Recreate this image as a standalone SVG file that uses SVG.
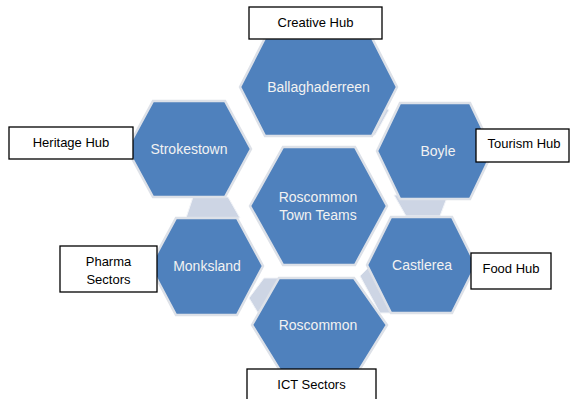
<svg xmlns="http://www.w3.org/2000/svg" width="572" height="399" viewBox="0 0 572 399">
<style>
.hex{fill:#4F81BD;stroke:#DDE1E8;stroke-width:2.5;stroke-linejoin:miter}
.con{fill:#CDD5E4;stroke:#F2F4F8;stroke-width:1}
.ht{font-family:"Liberation Sans",Arial,sans-serif;font-size:14px;fill:#F2F2F2;text-anchor:middle}
.box{fill:#FFFFFF;stroke:#000000;stroke-width:1.3}
.bt{font-family:"Liberation Sans",Arial,sans-serif;font-size:13px;fill:#000000;text-anchor:middle}
</style>
<rect width="572" height="399" fill="#FFFFFF"/>
<g id="connectors">
<polygon class="con" points="384,107 389,110 375,135 369,135"/>
<polygon class="con" points="193,197 228,197 240,218 186,218"/>
<polygon class="con" points="394,195 448,195 440,216 406,216"/>
<polygon class="con" points="264,278 280,278 258,313 249,298"/>
<polygon class="con" points="360,276 368,268 394,313 380,313"/>
</g>
<g id="node-ballaghaderreen">
<polygon class="hex" points="240,87 265,38 372,38 397,87 372,136 265,136"/>
<text class="ht" x="318.5" y="92">Ballaghaderreen</text>
</g>
<g id="node-strokestown">
<polygon class="hex" points="127,149 153,101 225,101 251,149 225,197 153,197"/>
<text class="ht" x="189" y="154">Strokestown</text>
</g>
<g id="node-boyle">
<polygon class="hex" points="377,151 400,103 470,103 493,151 470,199 400,199"/>
<text class="ht" x="438" y="156">Boyle</text>
</g>
<g id="node-town-teams">
<polygon class="hex" points="250,206 283,147 355,147 387,206 355,265 283,265"/>
<text class="ht" x="318" y="202">Roscommon</text>
<text class="ht" x="318" y="220">Town Teams</text>
</g>
<g id="node-monksland">
<polygon class="hex" points="150,266 176,218 237,218 263,266 237,315 176,315"/>
<text class="ht" x="207" y="271">Monksland</text>
</g>
<g id="node-castlerea">
<polygon class="hex" points="367,265 391,217 452,217 476,265 452,313 391,313"/>
<text class="ht" x="422" y="270">Castlerea</text>
</g>
<g id="node-roscommon">
<polygon class="hex" points="252,325 279,278 354,278 387,325 358,372 281,372"/>
<text class="ht" x="318" y="330">Roscommon</text>
</g>
<g id="label-creative">
<rect class="box" x="249" y="7" width="133" height="32"/>
<text class="bt" x="315.5" y="27">Creative Hub</text>
</g>
<g id="label-heritage">
<rect class="box" x="9" y="127" width="124" height="32"/>
<text class="bt" x="71" y="147">Heritage Hub</text>
</g>
<g id="label-tourism">
<rect class="box" x="476" y="129" width="93" height="33"/>
<text class="bt" x="524" y="148">Tourism Hub</text>
</g>
<g id="label-pharma">
<rect class="box" x="60" y="246" width="97" height="46"/>
<text class="bt" x="108.5" y="266">Pharma</text>
<text class="bt" x="108.5" y="284">Sectors</text>
</g>
<g id="label-food">
<rect class="box" x="471" y="253" width="80" height="36"/>
<text class="bt" x="511" y="273">Food Hub</text>
</g>
<g id="label-ict">
<rect class="box" x="247" y="369" width="129" height="32"/>
<text class="bt" x="311.5" y="389">ICT Sectors</text>
</g>
</svg>
